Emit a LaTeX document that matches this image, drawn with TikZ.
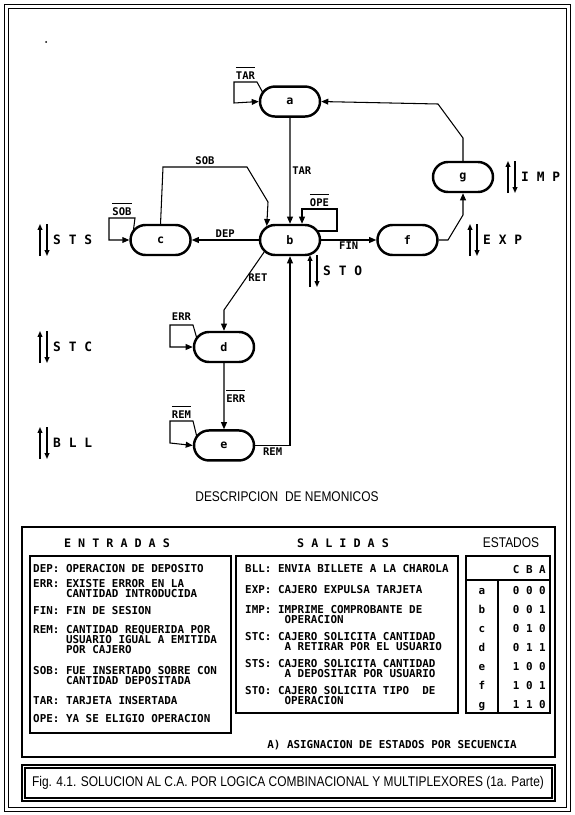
\documentclass[tikz,border=0pt]{standalone}
\usepackage{fontspec}
\setmainfont{Liberation Sans}
\newfontfamily\printfont{DejaVu Sans Mono}
\newfontfamily\narrowfont[FakeStretch=0.85]{Liberation Sans}
\usetikzlibrary{positioning,arrows.meta,shapes.misc,calc}

\newcommand{\nsig}[1]{$\overline{\rule{0pt}{9pt}\mbox{#1}}$}

\begin{document}
\begin{tikzpicture}[x=0.03cm, y=-0.03cm,
      state/.style={rounded rectangle, draw, line width=2.1pt,
                    minimum width=1.8cm, minimum height=0.9cm, inner sep=0pt,
                    font=\printfont\bfseries\fontsize{10}{12}\selectfont},
      arr/.style={-{Triangle[length=6pt,width=5pt]}, line width=0.9pt},
      sigarr/.style={-{Triangle[length=5pt,width=4pt]}, line width=1.1pt},
      lbl/.style={font=\printfont\bfseries\fontsize{9}{10}\selectfont, inner sep=1.5pt},
      sig/.style={font=\printfont\bfseries\fontsize{11}{12}\selectfont, anchor=west, inner sep=0pt},
      txt/.style={font=\printfont\bfseries\fontsize{9.3}{8.8}\selectfont,
                  anchor=north west, align=left, inner sep=0pt},
      tbl/.style={font=\printfont\bfseries\fontsize{9.3}{10}\selectfont, inner sep=0pt,
                  text height=1.5ex, text depth=0.2ex},
      head/.style={font=\printfont\bfseries\fontsize{10}{12}\selectfont},
      narrow/.style={font=\narrowfont\fontsize{12}{14}\selectfont},
      box/.style={draw, line width=0.9pt}]
  \useasboundingbox (0,0) rectangle (574,815);
  % frame
  \draw[line width=0.8pt] (4,4) rectangle (570,811);
  \draw[line width=0.8pt] (8,8) rectangle (566,807);
  \fill (46,42) circle (1);

  % states
  \node[state] (b) at (290,240) {b};
  \node[state, above=3.18cm of b] (a) {a};
  \node[state, left=2.01cm of b] (c) {c};
  \node[state, right=1.65cm of b] (f) {f};
  \node[state] (g) at (463,177) {g};
  \node[state] (d) at (224,347) {d};
  \node[state, below=1.98cm of d] (e) {e};

  % transitions
  \draw[arr] (a) -- node[lbl, right]{TAR} (b);
  \draw[arr] ($(a.west)+(4,-9)$) -- (257,82) -- node[lbl, above]{\nsig{TAR}} (234,82)
             -- (234,103) -- (a.west);
  \draw[arr] ($(b.east)+(-3,-9)$) -- (337,231) -- (337,209)
             -- node[lbl, above]{\nsig{OPE}} (302,209) -- ($(b.north)+(12,0)$);
  \draw[arr] (c.north) -- (163,167) -- node[lbl, above]{SOB} (247,167)
             -- (268,202) -- (b.149);
  \draw[arr] ($(c.west)+(4,-9)$) -- (135,218) -- node[lbl, above]{\nsig{SOB}} (109,218)
             -- (109,240) -- (c.west);
  \draw[arr] (b.west) -- node[lbl, above]{DEP} (c.east);
  \draw[arr] (b.east) -- node[lbl, below]{FIN} (f.west);
  \draw[arr] (f.east) -- (448,240) -- (463,215) -- (g.south);
  \draw[arr] (g.north) -- (463,138) -- (438,104) -- (a.east);
  \draw[arr] (b.205) -- node[lbl, right, pos=0.45]{RET} (224,310) -- (d.north);
  \draw[arr] ($(d.west)+(4,-9)$) -- (193,325) -- node[lbl, above=2pt]{ERR} (170,325)
             -- (170,347) -- (d.west);
  \draw[arr] (d) -- node[lbl, right]{\nsig{ERR}} (e);
  \draw[arr] ($(e.west)+(4,-9)$) -- (193,421) -- node[lbl, above]{\nsig{REM}} (170,421)
             -- (170,443) -- (e.west);
  \draw[arr] (e.east) -| node[lbl, below, pos=0.25]{REM} (b.south);

  % outputs
  \foreach \nm/\tx/\xx/\yy in {sts/S T S/40/240, stc/S T C/40/347, bll/B L L/40/443,
                               sto/S T O/310/271, exp/E X P/470/240, imp/I M P/508/177} {
    \draw[sigarr] (\xx,\yy+16) -- (\xx,\yy-16);
    \draw[sigarr] (\xx+7,\yy-16) -- (\xx+7,\yy+16);
    \node[sig] (\nm) at (\xx+13,\yy) {\tx};
  }

  % description
  \node[narrow] (desc) at (287,497) {DESCRIPCION\ \ DE NEMONICOS};
  \draw[box] (22,527) rectangle (555,757);
  \node[head] (hent) at (117,543) {E N T R A D A S};
  \node[head] (hsal) at (343,543) {S A L I D A S};
  \node[narrow] (hest) at (511,543) {ESTADOS};
  \draw[box] (30,556) rectangle (231,733);
  \draw[box] (236,556) rectangle (458,713);
  \draw[box] (466,556) rectangle (550,713);
  \draw[box] (466,580) -- (550,580);
  \draw[box] (498,580) -- (498,713);

  \node[txt] (dep) at (33,564) {DEP: OPERACION DE DEPOSITO};
  \node[txt] (err) at (33,579) {ERR: EXISTE ERROR EN LA\\\phantom{ERR:~}CANTIDAD INTRODUCIDA};
  \node[txt] (fin) at (33,606) {FIN: FIN DE SESION};
  \node[txt] (rem) at (33,625) {REM: CANTIDAD REQUERIDA POR\\\phantom{REM:~}USUARIO IGUAL A EMITIDA\\\phantom{REM:~}POR CAJERO};
  \node[txt] (sob) at (33,666) {SOB: FUE INSERTADO SOBRE CON\\\phantom{SOB:~}CANTIDAD DEPOSITADA};
  \node[txt] (tar) at (33,696) {TAR: TARJETA INSERTADA};
  \node[txt] (ope) at (33,714) {OPE: YA SE ELIGIO OPERACION};

  \node[txt] (bll) at (245,564) {BLL: ENVIA BILLETE A LA CHAROLA};
  \node[txt] (expt) at (245,585) {EXP: CAJERO EXPULSA TARJETA};
  \node[txt] (imp) at (245,605) {IMP: IMPRIME COMPROBANTE DE\\\phantom{IMP:~~}OPERACION};
  \node[txt] (stc) at (245,632) {STC: CAJERO SOLICITA CANTIDAD\\\phantom{STC:~~}A RETIRAR POR EL USUARIO};
  \node[txt] (sts) at (245,659) {STS: CAJERO SOLICITA CANTIDAD\\\phantom{STS:~~}A DEPOSITAR POR USUARIO};
  \node[txt] (sto) at (245,686) {STO: CAJERO SOLICITA TIPO\ \ DE\\\phantom{STO:~~}OPERACION};

  \node[tbl, anchor=east] (cba) at (546,569) {C B A};
  \foreach \st/\cd [count=\i] in {a/0 0 0, b/0 0 1, c/0 1 0, d/0 1 1, e/1 0 0, f/1 0 1, g/1 1 0} {
    \node[tbl] (st\st) at (482,571+19*\i) {\st};
    \node[tbl, anchor=east] (cd\st) at (546,571+19*\i) {\cd};
  }
  \node[tbl] (asig) at (392,744) {A) ASIGNACION DE ESTADOS POR SECUENCIA};

  % caption
  \draw[box] (22,765) rectangle (555,801);
  \draw[box] (25,768) rectangle (552,798);
  \node[narrow] (cap) at (288,783) {Fig. 4.1. SOLUCION AL C.A. POR LOGICA COMBINACIONAL Y MULTIPLEXORES (1a. Parte)};
\end{tikzpicture}
\end{document}
